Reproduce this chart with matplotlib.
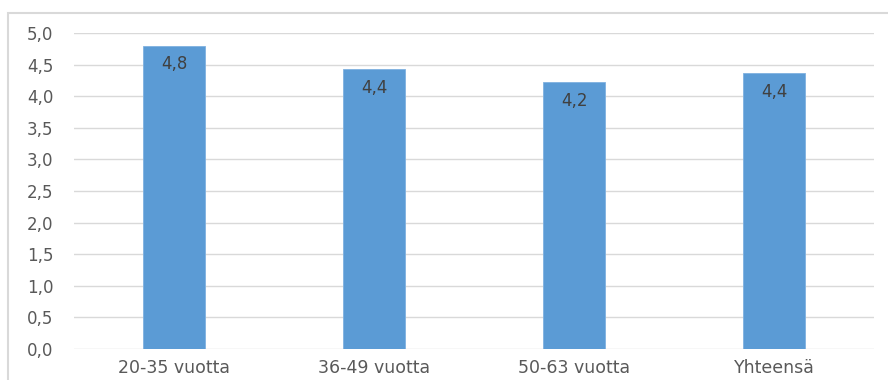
import matplotlib
matplotlib.use("Agg")
import matplotlib.pyplot as plt
from matplotlib.patches import Rectangle

categories = ["20-35 vuotta", "36-49 vuotta", "50-63 vuotta", "Yhteensä"]
values = [4.80, 4.43, 4.22, 4.37]
yticks = [0.0, 0.5, 1.0, 1.5, 2.0, 2.5, 3.0, 3.5, 4.0, 4.5, 5.0]

plt.rcParams["font.family"] = ["DejaVu Sans"]
text_col = "#595959"
grid_col = "#d9d9d9"

fig = plt.figure(figsize=(8.88, 3.8), dpi=100)
fig.patch.set_facecolor("white")

# outer chart frame
fig.patches.append(Rectangle((8 / 888, -0.1), 1.1, (380 - 13) / 380 + 0.1,
                             transform=fig.transFigure, fill=False,
                             edgecolor="#d9d9d9", linewidth=1.5))

ax = fig.add_axes([74 / 888, 31 / 380, 800 / 888, 316 / 380])
x = range(len(categories))
ax.bar(x, values, width=0.31, color="#5b9bd5", edgecolor="#7fb1e0",
       linewidth=0.6, zorder=3)

for xi, v in zip(x, values):
    ax.annotate(f"{v:.1f}".replace(".", ","), (xi, v), xytext=(0, -13.5),
                textcoords="offset points", ha="center", va="center",
                color="#404040", fontsize=12, zorder=4)

ax.set_xlim(-0.5, len(categories) - 0.5)
ax.set_ylim(0, 5)
ax.set_yticks(yticks)
ax.set_yticklabels([f"{t:.1f}".replace(".", ",") for t in yticks])
ax.set_xticks(list(x))
ax.set_xticklabels(categories)
ax.tick_params(axis="both", length=0, colors=text_col)
ax.tick_params(axis="y", pad=15, labelsize=12)
ax.tick_params(axis="x", pad=7, labelsize=12.5)
ax.grid(axis="y", color=grid_col, linewidth=1, zorder=0)
for s in ax.spines.values():
    s.set_visible(False)

fig.savefig("out.png", dpi=100)
